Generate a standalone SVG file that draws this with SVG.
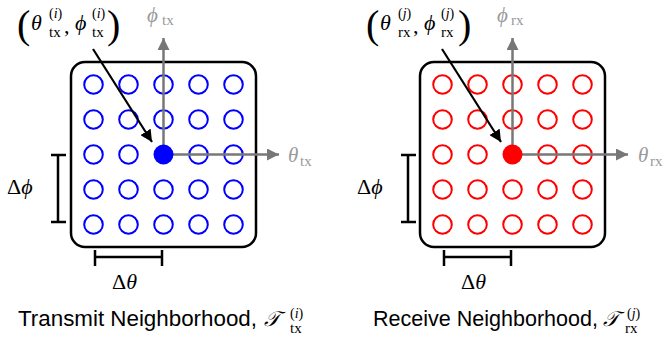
<svg xmlns="http://www.w3.org/2000/svg" width="663" height="339" viewBox="0 0 663 339">
<style>
.box{fill:none;stroke:#000;stroke-width:2.5}
.cb{fill:none;stroke:#0000ff;stroke-width:2}
.cr{fill:none;stroke:#ff0000;stroke-width:2}
.axis{stroke:#777;stroke-width:2.5;fill:none}
.ptr{stroke:#000;stroke-width:2.2;fill:none}
.brk{stroke:#000;stroke-width:2.5;fill:none}
.m{font-family:"Liberation Serif","DejaVu Serif",serif;fill:#000}
.mi{font-family:"Liberation Serif","DejaVu Serif",serif;font-style:italic;fill:#000}
.g{fill:#999}
.cap{font-family:"Liberation Sans","DejaVu Sans",sans-serif;font-size:22px;fill:#000}
.paren{font-family:"Liberation Serif","DejaVu Serif",serif;font-size:40px;fill:#000}
</style>
<defs>
<marker id="ga" markerUnits="userSpaceOnUse" markerWidth="14" markerHeight="12" refX="12" refY="6" orient="auto">
<path d="M0,0 L12,6 L0,12 z" fill="#777"/>
</marker>
<marker id="ba" markerUnits="userSpaceOnUse" markerWidth="14" markerHeight="12" refX="12" refY="6" orient="auto">
<path d="M0,0 L12,6 L0,12 z" fill="#000"/>
</marker>
</defs>

<g id="tx-neighborhood">
<rect class="box" x="71" y="62" width="185" height="185" rx="14"/>
<g class="cb">
<circle cx="93.5" cy="84.5" r="9.3"/><circle cx="128.5" cy="84.5" r="9.3"/><circle cx="163.5" cy="84.5" r="9.3"/><circle cx="198.5" cy="84.5" r="9.3"/><circle cx="233.5" cy="84.5" r="9.3"/>
<circle cx="93.5" cy="119.5" r="9.3"/><circle cx="128.5" cy="119.5" r="9.3"/><circle cx="163.5" cy="119.5" r="9.3"/><circle cx="198.5" cy="119.5" r="9.3"/><circle cx="233.5" cy="119.5" r="9.3"/>
<circle cx="93.5" cy="154.5" r="9.3"/><circle cx="128.5" cy="154.5" r="9.3"/><circle cx="198.5" cy="154.5" r="9.3"/><circle cx="233.5" cy="154.5" r="9.3"/>
<circle cx="93.5" cy="189.5" r="9.3"/><circle cx="128.5" cy="189.5" r="9.3"/><circle cx="163.5" cy="189.5" r="9.3"/><circle cx="198.5" cy="189.5" r="9.3"/><circle cx="233.5" cy="189.5" r="9.3"/>
<circle cx="93.5" cy="224.5" r="9.3"/><circle cx="128.5" cy="224.5" r="9.3"/><circle cx="163.5" cy="224.5" r="9.3"/><circle cx="198.5" cy="224.5" r="9.3"/><circle cx="233.5" cy="224.5" r="9.3"/>
</g>
</g>

<g id="rx-neighborhood">
<rect class="box" x="420" y="62" width="185" height="185" rx="14"/>
<g class="cr">
<circle cx="442.5" cy="84.5" r="9.3"/><circle cx="477.5" cy="84.5" r="9.3"/><circle cx="512.5" cy="84.5" r="9.3"/><circle cx="547.5" cy="84.5" r="9.3"/><circle cx="582.5" cy="84.5" r="9.3"/>
<circle cx="442.5" cy="119.5" r="9.3"/><circle cx="477.5" cy="119.5" r="9.3"/><circle cx="512.5" cy="119.5" r="9.3"/><circle cx="547.5" cy="119.5" r="9.3"/><circle cx="582.5" cy="119.5" r="9.3"/>
<circle cx="442.5" cy="154.5" r="9.3"/><circle cx="477.5" cy="154.5" r="9.3"/><circle cx="547.5" cy="154.5" r="9.3"/><circle cx="582.5" cy="154.5" r="9.3"/>
<circle cx="442.5" cy="189.5" r="9.3"/><circle cx="477.5" cy="189.5" r="9.3"/><circle cx="512.5" cy="189.5" r="9.3"/><circle cx="547.5" cy="189.5" r="9.3"/><circle cx="582.5" cy="189.5" r="9.3"/>
<circle cx="442.5" cy="224.5" r="9.3"/><circle cx="477.5" cy="224.5" r="9.3"/><circle cx="512.5" cy="224.5" r="9.3"/><circle cx="547.5" cy="224.5" r="9.3"/><circle cx="582.5" cy="224.5" r="9.3"/>
</g>
</g>

<g id="connectors">
<path class="axis" d="M163.5,154.5 V38" marker-end="url(#ga)"/>
<path class="axis" d="M163.5,154.5 H279" marker-end="url(#ga)"/>
<path class="axis" d="M512.5,154.5 V38" marker-end="url(#ga)"/>
<path class="axis" d="M512.5,154.5 H628" marker-end="url(#ga)"/>
<path class="ptr" d="M93,49 L152,142" marker-end="url(#ba)"/>
<path class="ptr" d="M442,49 L501,142" marker-end="url(#ba)"/>
<path class="brk" d="M58,155 V222 M51,155 H66 M51,222 H66"/>
<path class="brk" d="M95,257 H162 M95,250 V266 M162,250 V266"/>
<path class="brk" d="M408,155 V222 M401,155 H416 M401,222 H416"/>
<path class="brk" d="M444,257 H511 M444,250 V266 M511,250 V266"/>
</g>

<g id="tx-center">
<circle cx="163.5" cy="154.5" r="10" fill="#0000ff"/>
</g>
<g id="rx-center">
<circle cx="512.5" cy="154.5" r="10" fill="#ff0000"/>
</g>

<g id="tx-labels">
<text class="paren" x="17" y="38">(</text>
<text class="mi" x="31" y="30" font-size="22">θ</text>
<text class="m" x="49" y="18" font-size="14">(<tspan font-style="italic">i</tspan>)</text>
<text class="m" x="49" y="37" font-size="15">tx</text>
<text class="m" x="64" y="33" font-size="22">,</text>
<text class="mi" x="75" y="30" font-size="22">ϕ</text>
<text class="m" x="92" y="18" font-size="14">(<tspan font-style="italic">i</tspan>)</text>
<text class="m" x="92" y="37" font-size="15">tx</text>
<text class="paren" x="107" y="38">)</text>
<text class="mi g" x="147" y="22" font-size="21">ϕ</text>
<text class="m g" x="162" y="25" font-size="15">tx</text>
<text class="mi g" x="288" y="162" font-size="21">θ</text>
<text class="m g" x="300" y="166" font-size="15">tx</text>
<text class="m" x="7" y="194" font-size="22">Δ<tspan font-style="italic">ϕ</tspan></text>
<text class="m" x="112" y="289" font-size="22">Δ<tspan font-style="italic">θ</tspan></text>
<text class="cap" x="18" y="326" textLength="239" lengthAdjust="spacingAndGlyphs">Transmit Neighborhood,</text>
<text class="mi" x="264" y="326" font-size="21">𝒯</text>
<text class="m" x="290" y="318" font-size="14">(<tspan font-style="italic">i</tspan>)</text>
<text class="m" x="290" y="333" font-size="15">tx</text>
</g>

<g id="rx-labels">
<text class="paren" x="366" y="38">(</text>
<text class="mi" x="380" y="30" font-size="22">θ</text>
<text class="m" x="398" y="18" font-size="14">(<tspan font-style="italic">j</tspan>)</text>
<text class="m" x="398" y="37" font-size="15">rx</text>
<text class="m" x="413" y="33" font-size="22">,</text>
<text class="mi" x="424" y="30" font-size="22">ϕ</text>
<text class="m" x="441" y="18" font-size="14">(<tspan font-style="italic">j</tspan>)</text>
<text class="m" x="441" y="37" font-size="15">rx</text>
<text class="paren" x="458" y="38">)</text>
<text class="mi g" x="497" y="22" font-size="21">ϕ</text>
<text class="m g" x="511" y="25" font-size="15">rx</text>
<text class="mi g" x="638" y="162" font-size="21">θ</text>
<text class="m g" x="650" y="166" font-size="15">rx</text>
<text class="m" x="357" y="194" font-size="22">Δ<tspan font-style="italic">ϕ</tspan></text>
<text class="m" x="461" y="289" font-size="22">Δ<tspan font-style="italic">θ</tspan></text>
<text class="cap" x="373" y="326" textLength="225" lengthAdjust="spacingAndGlyphs">Receive Neighborhood,</text>
<text class="mi" x="603" y="326" font-size="21">𝒯</text>
<text class="m" x="627" y="318" font-size="14">(<tspan font-style="italic">j</tspan>)</text>
<text class="m" x="625" y="333" font-size="15">rx</text>
</g>
</svg>
